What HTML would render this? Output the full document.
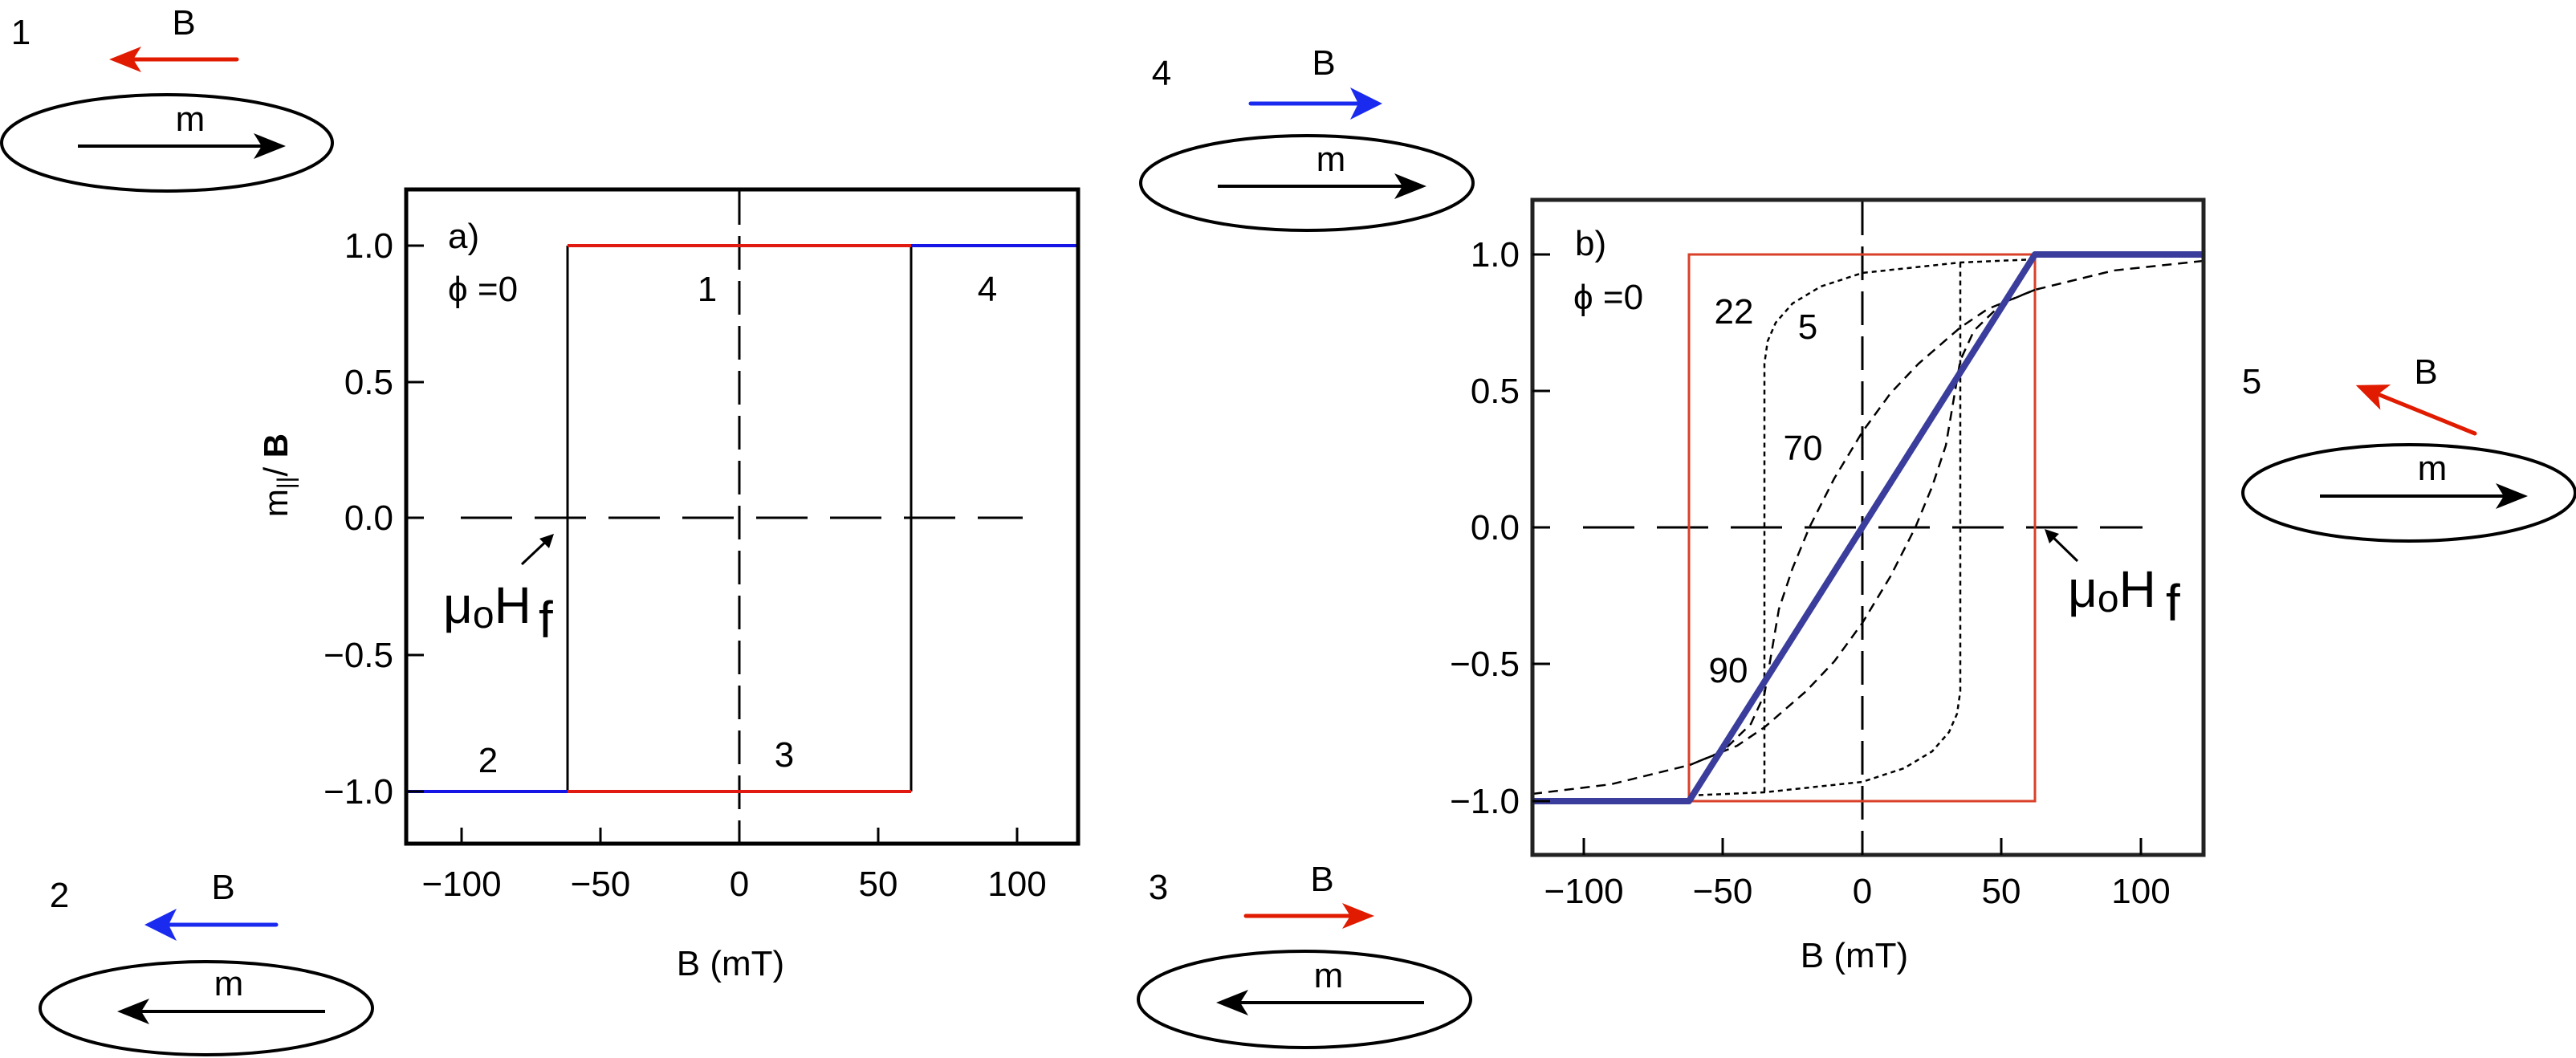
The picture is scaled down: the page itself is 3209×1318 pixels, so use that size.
<!DOCTYPE html>
<html><head><meta charset="utf-8"><style>
html,body{margin:0;padding:0;background:#fff;}
svg{display:block;}
text{font-family:"Liberation Sans","DejaVu Sans",sans-serif;fill:#000;}
</style></head><body>
<svg width="3209" height="1318" viewBox="0 0 3209 1318" xmlns="http://www.w3.org/2000/svg">
<!-- Diagram 1 -->
<text x="26" y="55" font-size="44" text-anchor="middle">1</text>
<text x="229" y="43" font-size="44" text-anchor="middle">B</text>
<g transform="translate(295,74) rotate(180)" fill="#e01b00" stroke="#e01b00"><line x1="0" y1="0" x2="130" y2="0" stroke-width="5" stroke-linecap="round"/><path d="M159 0 L119 -16 L129 0 L119 16Z" stroke="none"/></g>
<ellipse cx="208" cy="178" rx="206" ry="60" fill="none" stroke="#000" stroke-width="4"/>
<text x="237" y="163" font-size="44" text-anchor="middle">m</text>
<g transform="translate(97,182)"><line x1="0" y1="0" x2="230" y2="0" stroke="#000" stroke-width="4"/><path d="M259 0 L219 -16 L229 0 L219 16Z"/></g>

<!-- Diagram 2 -->
<text x="74" y="1130" font-size="44" text-anchor="middle">2</text>
<text x="278" y="1120" font-size="44" text-anchor="middle">B</text>
<g transform="translate(344,1152) rotate(180)" fill="#1a2bef" stroke="#1a2bef"><line x1="0" y1="0" x2="135" y2="0" stroke-width="5" stroke-linecap="round"/><path d="M164 0 L124 -20 L134 0 L124 20Z" stroke="none"/></g>
<ellipse cx="257" cy="1256" rx="207" ry="58" fill="none" stroke="#000" stroke-width="4"/>
<text x="285" y="1240" font-size="44" text-anchor="middle">m</text>
<g transform="translate(405,1260) rotate(180)"><line x1="0" y1="0" x2="230" y2="0" stroke="#000" stroke-width="4"/><path d="M259 0 L219 -16 L229 0 L219 16Z"/></g>

<!-- Diagram 4 -->
<text x="1447" y="106" font-size="44" text-anchor="middle">4</text>
<text x="1649" y="93" font-size="44" text-anchor="middle">B</text>
<g transform="translate(1558,129)" fill="#1a2bef" stroke="#1a2bef"><line x1="0" y1="0" x2="135" y2="0" stroke-width="5" stroke-linecap="round"/><path d="M164 0 L124 -20 L134 0 L124 20Z" stroke="none"/></g>
<ellipse cx="1628" cy="228" rx="207" ry="59" fill="none" stroke="#000" stroke-width="4"/>
<text x="1658" y="213" font-size="44" text-anchor="middle">m</text>
<g transform="translate(1517,232)"><line x1="0" y1="0" x2="230" y2="0" stroke="#000" stroke-width="4"/><path d="M260 0 L220 -16 L230 0 L220 16Z"/></g>

<!-- Diagram 3 -->
<text x="1443" y="1120" font-size="44" text-anchor="middle">3</text>
<text x="1647" y="1110" font-size="44" text-anchor="middle">B</text>
<g transform="translate(1552,1141)" fill="#e01b00" stroke="#e01b00"><line x1="0" y1="0" x2="131" y2="0" stroke-width="5" stroke-linecap="round"/><path d="M160 0 L120 -16 L130 0 L120 16Z" stroke="none"/></g>
<ellipse cx="1625" cy="1245" rx="207" ry="60" fill="none" stroke="#000" stroke-width="4"/>
<text x="1655" y="1230" font-size="44" text-anchor="middle">m</text>
<g transform="translate(1774,1249) rotate(180)"><line x1="0" y1="0" x2="229" y2="0" stroke="#000" stroke-width="4"/><path d="M259 0 L219 -16 L229 0 L219 16Z"/></g>

<!-- Diagram 5 -->
<text x="2805" y="490" font-size="44" text-anchor="middle">5</text>
<text x="3022" y="478" font-size="44" text-anchor="middle">B</text>
<g transform="translate(3083,540) rotate(202.07)" fill="#e01b00" stroke="#e01b00"><line x1="0" y1="0" x2="130" y2="0" stroke-width="5" stroke-linecap="round"/><path d="M160 0 L120 -17 L130 0 L120 17Z" stroke="none"/></g>
<ellipse cx="3001" cy="614" rx="207" ry="60" fill="none" stroke="#000" stroke-width="4"/>
<text x="3030" y="598" font-size="44" text-anchor="middle">m</text>
<g transform="translate(2890,618)"><line x1="0" y1="0" x2="229" y2="0" stroke="#000" stroke-width="4"/><path d="M259 0 L219 -16 L229 0 L219 16Z"/></g>

<!-- ===== Plot a ===== -->
<g stroke="#000" stroke-width="3" fill="none">
<line x1="921" y1="238" x2="921" y2="1049" stroke-dasharray="42 14" stroke-width="3"/>
<line x1="574" y1="645" x2="1274" y2="645" stroke-dasharray="64 28" stroke-width="3"/>
<line x1="707" y1="306" x2="707" y2="986"/>
<line x1="1135" y1="306" x2="1135" y2="986"/>
</g>
<line x1="707" y1="306" x2="1135" y2="306" stroke="#e01a10" stroke-width="4"/>
<line x1="1135" y1="306" x2="1343" y2="306" stroke="#1515e6" stroke-width="4"/>
<line x1="707" y1="986" x2="1135" y2="986" stroke="#e01a10" stroke-width="4"/>
<line x1="506" y1="986" x2="707" y2="986" stroke="#1515e6" stroke-width="4"/>
<rect x="506" y="236" width="837" height="815" fill="none" stroke="#000" stroke-width="5"/>
<g stroke="#000" stroke-width="3">
<line x1="506" y1="306" x2="528" y2="306"/><line x1="506" y1="476" x2="528" y2="476"/><line x1="506" y1="645" x2="528" y2="645"/><line x1="506" y1="816" x2="528" y2="816"/><line x1="506" y1="986" x2="528" y2="986"/>
<line x1="575" y1="1051" x2="575" y2="1031"/><line x1="748" y1="1051" x2="748" y2="1031"/><line x1="1094" y1="1051" x2="1094" y2="1031"/><line x1="1267" y1="1051" x2="1267" y2="1031"/>
</g>
<g font-size="44" text-anchor="end" fill="#222">
<text x="490" y="321">1.0</text><text x="490" y="491">0.5</text><text x="490" y="660">0.0</text><text x="490" y="831">−0.5</text><text x="490" y="1001">−1.0</text>
</g>
<g font-size="44" text-anchor="middle">
<text x="575" y="1116">−100</text><text x="748" y="1116">−50</text><text x="921" y="1116">0</text><text x="1094" y="1116">50</text><text x="1267" y="1116">100</text>
<text x="910" y="1215">B (mT)</text>
</g>
<text font-size="42" transform="translate(358,592) rotate(-90)" text-anchor="middle">m<tspan font-size="30" dy="8">||</tspan><tspan dy="-8">/ </tspan><tspan font-weight="bold">B</tspan></text>
<g font-size="44">
<text x="558" y="309">a)</text>
<text x="558" y="375">ϕ =0</text>
<text x="881" y="375" text-anchor="middle">1</text>
<text x="1230" y="375" text-anchor="middle">4</text>
<text x="608" y="962" text-anchor="middle">2</text>
<text x="977" y="955" text-anchor="middle">3</text>
</g>
<line x1="650" y1="703" x2="686" y2="669" stroke="#000" stroke-width="3"/>
<path d="M690 665 L672 671 L684 683Z" fill="#000"/>
<text x="552" y="776" font-size="64">μ<tspan font-size="48" dy="6">o</tspan><tspan dy="-6">H</tspan></text>
<text x="671" y="794" font-size="64">f</text>

<!-- ===== Plot b ===== -->
<g transform="translate(-7,0)">
<g stroke="#000" stroke-width="3" fill="none">
<line x1="2327" y1="251" x2="2327" y2="1063" stroke-dasharray="42 14"/>
<line x1="1979" y1="657" x2="2676" y2="657" stroke-dasharray="64 28"/>
</g>
<rect x="2111" y="317" width="431" height="681" fill="none" stroke="#d9402a" stroke-width="3"/>
<g fill="none" stroke="#000" stroke-width="2.5" stroke-dasharray="12 8">
<polyline points="2752,325 2640,337 2542,361 2483,385 2449,408 2397,453 2362,490 2327,538 2292,596 2261,657 2240,708 2223,759 2205,865 2188,902 2153,936 2112,953"/>
<polyline points="1916,989 2014,977 2112,953 2171,929 2205,906 2257,861 2292,824 2327,776 2362,718 2393,657 2414,606 2431,555 2449,449 2466,412 2501,378 2542,361"/>
</g>
<g fill="none" stroke="#000" stroke-width="2.5" stroke-dasharray="6 5">
<polyline points="2542,323 2449,327 2327,340 2275,357 2240,378 2219,402 2209,425 2205,453 2205,987"/>
<polyline points="2112,991 2205,987 2327,974 2379,957 2414,936 2435,912 2445,889 2449,861 2449,327"/>
</g>
<polyline points="1916,998 2111,998 2542,317 2752,317" fill="none" stroke="#3a3d9c" stroke-width="8" stroke-linejoin="round"/>
</g>
<rect x="1909" y="249" width="836" height="816" fill="none" stroke="#222" stroke-width="5"/>
<g stroke="#000" stroke-width="3">
<line x1="1909" y1="317" x2="1931" y2="317"/><line x1="1909" y1="487" x2="1931" y2="487"/><line x1="1909" y1="657" x2="1931" y2="657"/><line x1="1909" y1="827" x2="1931" y2="827"/><line x1="1909" y1="998" x2="1931" y2="998"/>
<line x1="1973" y1="1065" x2="1973" y2="1044"/><line x1="2146" y1="1065" x2="2146" y2="1044"/><line x1="2320" y1="1065" x2="2320" y2="1044"/><line x1="2493" y1="1065" x2="2493" y2="1044"/><line x1="2667" y1="1065" x2="2667" y2="1044"/>
</g>
<g font-size="44" text-anchor="end" fill="#222">
<text x="1893" y="332">1.0</text><text x="1893" y="502">0.5</text><text x="1893" y="672">0.0</text><text x="1893" y="842">−0.5</text><text x="1893" y="1013">−1.0</text>
</g>
<g font-size="44" text-anchor="middle">
<text x="1973" y="1125">−100</text><text x="2146" y="1125">−50</text><text x="2320" y="1125">0</text><text x="2493" y="1125">50</text><text x="2667" y="1125">100</text>
<text x="2310" y="1205">B (mT)</text>
</g>
<g font-size="44">
<text x="1962" y="318">b)</text>
<text x="1960" y="385">ϕ =0</text>
<text x="2160" y="403" text-anchor="middle">22</text>
<text x="2252" y="422" text-anchor="middle">5</text>
<text x="2246" y="573" text-anchor="middle">70</text>
<text x="2153" y="850" text-anchor="middle">90</text>
</g>
<line x1="2588" y1="699" x2="2552" y2="664" stroke="#000" stroke-width="3"/>
<path d="M2547 659 L2553 677 L2565 665Z" fill="#000"/>
<text x="2576" y="756" font-size="64">μ<tspan font-size="48" dy="6">o</tspan><tspan dy="-6">H</tspan></text>
<text x="2698" y="773" font-size="64">f</text>
</svg>
</body></html>
